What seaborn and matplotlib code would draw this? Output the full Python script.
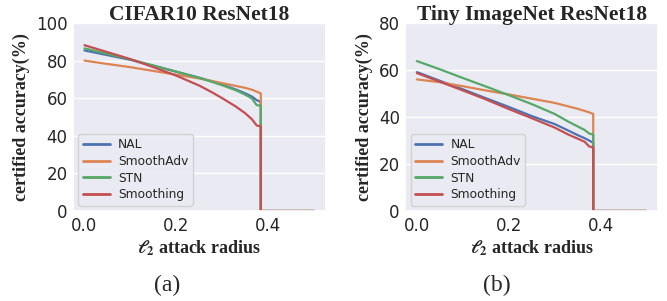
import numpy as np
import pandas as pd
import matplotlib
matplotlib.use("Agg")
import matplotlib.pyplot as plt
import seaborn as sns

# ---------------- data ----------------
methods = ["NAL", "SmoothAdv", "STN", "Smoothing"]
radius = [0.0, 0.05, 0.1, 0.15, 0.2, 0.25, 0.275, 0.3, 0.33, 0.35, 0.365, 0.375, 0.384]
radius_max = 0.5

cifar_nal = [85.4, 82.9, 80.4, 77.3, 74.1, 70.9, 69.1, 67.2, 64.6, 62.6, 60.8, 59.0, 58.0]
cifar_smoothadv = [80.0, 78.2, 76.5, 74.5, 72.5, 70.5, 69.3, 68.0, 66.5, 65.5, 64.5, 63.5, 62.5]
cifar_stn = [86.5, 83.6, 80.6, 77.4, 74.1, 70.8, 68.9, 66.9, 64.2, 61.9, 59.8, 56.3, 56.0]
cifar_smoothing = [88.2, 84.5, 80.8, 76.5, 72.0, 66.7, 63.5, 60.0, 55.5, 52.0, 48.7, 45.5, 45.0]

tiny_nal = [59.1, 55.4, 51.8, 48.0, 44.3, 40.4, 38.7, 37.0, 34.2, 32.3, 31.0, 30.0, 29.0]
tiny_smoothadv = [56.0, 54.8, 53.1, 51.3, 49.6, 47.8, 46.9, 46.0, 44.5, 43.5, 42.6, 42.0, 41.3]
tiny_stn = [63.8, 60.3, 56.6, 53.0, 49.3, 45.5, 43.4, 41.3, 38.0, 36.0, 34.5, 33.0, 32.5]
tiny_smoothing = [58.7, 55.0, 51.3, 47.5, 43.4, 39.5, 37.5, 35.5, 32.5, 30.8, 29.5, 27.5, 27.0]

titles = ["CIFAR10 ResNet18", "Tiny ImageNet ResNet18"]
captions = ["(a)", "(b)"]
y_limits = [(0, 100), (0, 80)]
y_ticks = [[0, 20, 40, 60, 80, 100], [0, 20, 40, 60, 80]]
x_ticks = [0.0, 0.2, 0.4]


def build_frame(series):
    rows = []
    for name, vals in zip(methods, series):
        xs = list(radius) + [radius[-1], radius_max]
        ys = list(vals) + [0.0, 0.0]
        for x, y in zip(xs, ys):
            rows.append({"method": name, "radius": x, "acc": y})
    return pd.DataFrame(rows)


frames = [
    build_frame([cifar_nal, cifar_smoothadv, cifar_stn, cifar_smoothing]),
    build_frame([tiny_nal, tiny_smoothadv, tiny_stn, tiny_smoothing]),
]

# ---------------- style ----------------
sns.set_theme(style="darkgrid", palette="deep")
plt.rcParams["font.family"] = ["DejaVu Sans"]
plt.rcParams["mathtext.fontset"] = "stix"

serif_bold = dict(family="Liberation Serif", weight="bold")

fig, axes = plt.subplots(1, 2, figsize=(6.67, 3.01), dpi=100)
fig.subplots_adjust(left=0.1094, right=0.9865, bottom=0.299, top=0.9236, wspace=0.316)

palette = sns.color_palette("deep", 4)

for k, ax in enumerate(axes):
    df = frames[k]
    sns.lineplot(data=df, x="radius", y="acc", hue="method", hue_order=methods,
                 palette=palette, estimator=None, sort=False,
                 linewidth=1.6, ax=ax)
    ax.set_ylim(*y_limits[k])
    ax.set_yticks(y_ticks[k])
    ax.set_xticks(x_ticks)
    ax.set_xticklabels([f"{t:.1f}" for t in x_ticks])
    ax.set_xlim(-0.025, 0.525)
    ax.xaxis.grid(False)
    ax.tick_params(axis="both", labelsize=12, length=0, pad=4)
    ax.set_title(titles[k], fontsize=15.5, pad=2, **serif_bold)
    ax.set_ylabel("certified accuracy(%)", fontsize=13, labelpad=4, **serif_bold)
    ax.set_xlabel(r"$\mathbf{\ell_2}$ attack radius", fontsize=13, labelpad=3, **serif_bold)
    leg = ax.legend(loc="lower left", fontsize=8.8, handlelength=2.2,
                    handletextpad=0.7, borderpad=0.35,
                    borderaxespad=0.45, labelspacing=0.3)
    leg.set_title(None)
    for line in leg.get_lines():
        line.set_linewidth(2.0)

for k, cap in enumerate(captions):
    xc = [167 / 667, 497 / 667][k]
    fig.text(xc, 1 - 285 / 301, cap, ha="center", va="center",
             family="Liberation Serif", fontsize=17)

fig.savefig("out.png", dpi=100)
